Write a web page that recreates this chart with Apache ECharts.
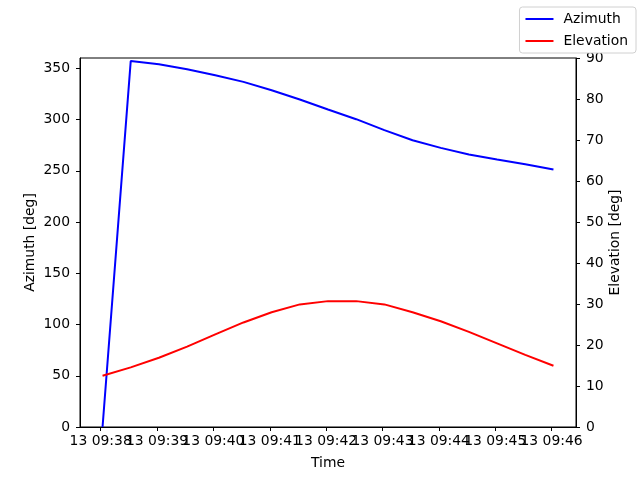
<!DOCTYPE html>
<html><head><meta charset="utf-8">
<script src="https://cdn.jsdelivr.net/npm/echarts@6/dist/echarts.min.js"></script>
<style>html,body{margin:0;padding:0;background:#fff}#c{width:640px;height:480px}</style>
</head><body><div id="c"></div>
<script>
const times = ['09:38:02','09:38:32','09:39:02','09:39:32','09:40:02','09:40:32','09:41:02','09:41:32','09:42:02','09:42:32','09:43:02','09:43:32','09:44:02','09:44:32','09:45:02','09:45:32','09:46:02'];
const azimuth = [0, 357, 353.9, 349.0, 343.2, 336.7, 328.5, 319.5, 309.7, 300.3, 289.6, 279.8, 272.3, 265.9, 261.0, 256.4, 251.2];
const elevation = [12.5, 14.55, 16.9, 19.6, 22.6, 25.5, 28.0, 29.9, 30.7, 30.7, 29.9, 28.0, 25.8, 23.2, 20.4, 17.6, 14.95];
const timeTicks = ['09:38','09:39','09:40','09:41','09:42','09:43','09:44','09:45','09:46'];
const dayLabel = '13';
const azTicks = [0,50,100,150,200,250,300,350];
const elTicks = [0,10,20,30,40,50,60,70,80,90];

function toSec(s){const p=s.split(':').map(Number);return p[0]*3600+p[1]*60+(p[2]||0);}
function fmt(v){const h=Math.floor(v/3600),m=Math.round((v-h*3600)/60);return dayLabel+' '+String(h).padStart(2,'0')+':'+String(m).padStart(2,'0');}
const xs = times.map(toSec);
const span = xs[xs.length-1]-xs[0];
const xMin = xs[0]-0.05*span, xMax = xs[xs.length-1]+0.05*span;
const tickVals = timeTicks.map(toSec);
const evenTicks = tickVals.filter((v,i)=>i%2===0);
const oddTicks = tickVals.filter((v,i)=>i%2===1);
const font = 'DejaVu Sans';
const fs = 13.9;
const lblBase = {color:'#000',fontFamily:font,fontSize:fs,margin:10,interval:0,hideOverlap:false,showMinLabel:true,showMaxLabel:true};
const nameStyle = {fontFamily:font,fontSize:fs,color:'#000'};

const chart = echarts.init(document.getElementById('c'));
chart.setOption({
  animation:false,
  textStyle:{fontFamily:font},
  grid:{left:80,right:64,top:58,bottom:53,show:true,borderColor:'#000',borderWidth:1,backgroundColor:'transparent'},
  legend:{
    data:['Azimuth','Elevation'],orient:'vertical',right:4,top:7,
    icon:'rect',itemWidth:28,itemHeight:2,itemGap:8,
    textStyle:{fontFamily:font,fontSize:fs,color:'#000',padding:[0,0,0,5]},
    borderColor:'#d0d0d0',borderWidth:1,borderRadius:3,padding:[5,8,5,6],backgroundColor:'#fff'
  },
  xAxis:[
    {type:'value',min:xMin,max:xMax,position:'bottom',
     name:'Time',nameLocation:'middle',nameGap:29,nameTextStyle:nameStyle,
     axisLine:{show:true,lineStyle:{color:'#000',width:1}},
     axisTick:{show:true,inside:false,length:4,lineStyle:{color:'#000'},customValues:tickVals},
     axisLabel:Object.assign({customValues:evenTicks,formatter:fmt},lblBase,{margin:7}),
     splitLine:{show:false}},
    {type:'value',min:xMin,max:xMax,position:'bottom',offset:0,
     axisLine:{show:false},axisTick:{show:false},
     axisLabel:Object.assign({customValues:oddTicks,formatter:fmt},lblBase,{margin:7}),
     splitLine:{show:false}}
  ],
  yAxis:[
    {type:'value',min:0,max:360,position:'left',
     name:'Azimuth [deg]',nameLocation:'middle',nameGap:43,nameRotate:90,nameMoveOverlap:false,nameTextStyle:nameStyle,
     axisLine:{show:true,lineStyle:{color:'#000'}},
     axisTick:{show:true,length:4,lineStyle:{color:'#000'},customValues:azTicks},
     axisLabel:Object.assign({customValues:azTicks},lblBase),
     splitLine:{show:false}},
    {type:'value',min:0,max:90,position:'right',
     name:'Elevation [deg]',nameLocation:'middle',nameGap:32,nameRotate:90,nameMoveOverlap:false,nameTextStyle:nameStyle,
     axisLine:{show:true,lineStyle:{color:'#000'}},
     axisTick:{show:true,length:4,lineStyle:{color:'#000'},customValues:elTicks},
     axisLabel:Object.assign({customValues:elTicks},lblBase),
     splitLine:{show:false}}
  ],
  series:[
    {name:'Azimuth',type:'line',xAxisIndex:0,yAxisIndex:0,data:xs.map((x,i)=>[x,azimuth[i]]),symbol:'none',lineStyle:{color:'#0000ff',width:2},itemStyle:{color:'#0000ff'}},
    {name:'Elevation',type:'line',xAxisIndex:0,yAxisIndex:1,data:xs.map((x,i)=>[x,elevation[i]]),symbol:'none',lineStyle:{color:'#ff0000',width:2},itemStyle:{color:'#ff0000'}}
  ]
});
</script></body></html>
